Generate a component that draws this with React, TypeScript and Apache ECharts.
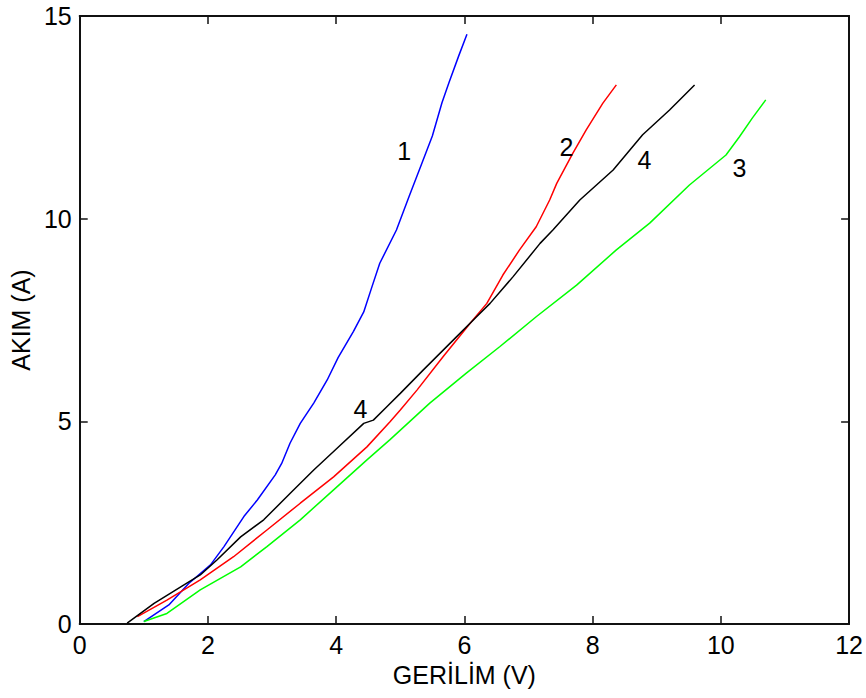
import React, { useEffect, useRef } from "react";
import * as echarts from "echarts";

// Curve 1 (blue)
const v1 = [1.0, 1.39, 1.7, 2.04, 2.25, 2.56, 2.77, 3.05, 3.15, 3.28, 3.44, 3.65, 3.86, 4.03, 4.27, 4.43, 4.55, 4.68, 4.94, 5.14, 5.34, 5.5, 5.65, 5.76, 5.91, 6.04];
const i1 = [0.06, 0.47, 1.0, 1.46, 1.91, 2.65, 3.06, 3.68, 3.96, 4.46, 4.95, 5.45, 6.02, 6.57, 7.22, 7.7, 8.28, 8.9, 9.72, 10.56, 11.38, 12.04, 12.86, 13.36, 14.01, 14.55];
// Curve 2 (red)
const v2 = [0.9, 1.36, 1.88, 2.4, 2.92, 3.44, 3.96, 4.48, 4.84, 5.0, 5.26, 5.67, 6.09, 6.35, 6.6, 6.86, 7.12, 7.33, 7.44, 7.69, 7.9, 8.16, 8.37];
const i2 = [0.18, 0.59, 1.09, 1.66, 2.32, 2.98, 3.63, 4.37, 4.99, 5.28, 5.77, 6.6, 7.42, 7.91, 8.61, 9.23, 9.8, 10.46, 10.87, 11.61, 12.19, 12.85, 13.3];
// Curve 3 (green)
const v3 = [1.0, 1.36, 1.88, 2.51, 2.92, 3.44, 3.96, 4.48, 4.84, 5.46, 6.03, 6.55, 7.12, 7.75, 8.37, 8.89, 9.51, 10.08, 10.29, 10.49, 10.7];
const i3 = [0.06, 0.26, 0.84, 1.41, 1.91, 2.57, 3.31, 4.05, 4.55, 5.45, 6.19, 6.84, 7.58, 8.36, 9.23, 9.89, 10.83, 11.57, 12.02, 12.48, 12.93];
// Curve 4 (black)
const v4 = [0.74, 1.16, 1.62, 1.88, 2.14, 2.51, 2.87, 3.28, 3.65, 4.01, 4.43, 4.58, 4.79, 5.0, 5.36, 5.88, 6.19, 6.4, 6.76, 7.18, 7.38, 7.8, 8.32, 8.78, 9.2, 9.59];
const i4 = [0.02, 0.51, 0.96, 1.21, 1.58, 2.15, 2.57, 3.22, 3.8, 4.33, 4.95, 5.03, 5.36, 5.69, 6.27, 7.09, 7.58, 7.91, 8.57, 9.39, 9.72, 10.46, 11.2, 12.07, 12.68, 13.3];

// Curve labels
const labelTexts = ["1", "2", "4", "3", "4"];
const labelV = [5.06, 7.59, 8.81, 10.29, 4.38];
const labelI = [11.67, 11.77, 11.44, 11.24, 5.31];

const xName = "GERİLİM (V)";
const yName = "AKIM (A)";

const FONT = "'Liberation Sans', Arial, sans-serif";
const AX = "#111";

const pairs = (xs: number[], ys: number[]) => xs.map((x, k) => [x, ys[k]]);

export default function App() {
  const ref = useRef<HTMLDivElement>(null);
  useEffect(() => {
    if (!ref.current) return;
    const chart = echarts.init(ref.current, undefined, { renderer: "svg" });
    const axisCommon = {
      axisLine: { show: true, onZero: false, lineStyle: { color: AX, width: 2 } },
      axisTick: { show: true, inside: true, length: 8, lineStyle: { color: AX, width: 1.5 } },
      splitLine: { show: false },
    };
    const lineSeries = (name: string, xs: number[], ys: number[], color: string) => ({
      name,
      type: "line",
      data: pairs(xs, ys),
      showSymbol: false,
      symbol: "none",
      lineStyle: { color, width: 1.5 },
      xAxisIndex: 0,
      yAxisIndex: 0,
      z: 3,
    });
    chart.setOption({
      animation: false,
      backgroundColor: "#fff",
      grid: { left: 79, right: 16, top: 16, bottom: 74, containLabel: false },
      xAxis: [
        {
          type: "value",
          position: "bottom",
          min: 0,
          max: 12,
          interval: 2,
          name: xName,
          nameLocation: "middle",
          nameGap: 38,
          nameTextStyle: { color: "#000", fontSize: 25, fontFamily: FONT },
          axisLabel: { color: "#000", fontSize: 25, fontFamily: FONT, margin: 8 },
          ...axisCommon,
        },
        {
          type: "value",
          position: "top",
          min: 0,
          max: 12,
          interval: 2,
          axisLabel: { show: false },
          ...axisCommon,
        },
      ],
      yAxis: [
        {
          type: "value",
          position: "left",
          min: 0,
          max: 15,
          interval: 5,
          name: yName,
          nameLocation: "middle",
          nameGap: 45,
          nameRotate: 90,
          nameTextStyle: { color: "#000", fontSize: 25, fontFamily: FONT },
          axisLabel: { color: "#000", fontSize: 25, fontFamily: FONT, margin: 8 },
          ...axisCommon,
        },
        {
          type: "value",
          position: "right",
          min: 0,
          max: 15,
          interval: 5,
          axisLabel: { show: false },
          ...axisCommon,
        },
      ],
      series: [
        lineSeries("1", v1, i1, "#0000ff"),
        lineSeries("2", v2, i2, "#ff0000"),
        lineSeries("3", v3, i3, "#00ff00"),
        lineSeries("4", v4, i4, "#000000"),
        {
          type: "scatter",
          name: "labels",
          data: labelV.map((x, k) => ({ value: [x, labelI[k]], name: labelTexts[k] })),
          symbolSize: 1,
          itemStyle: { color: "rgba(0,0,0,0)", opacity: 1 },
          label: {
            show: true,
            position: "inside",
            formatter: (p: any) => p.name,
            color: "#000",
            fontSize: 25,
            fontFamily: FONT,
            align: "center",
            verticalAlign: "middle",
            textBorderWidth: 0,
          },
          z: 5,
        },
      ],
    });
    return () => chart.dispose();
  }, []);
  return (
    <div
      ref={ref}
      style={{ position: "absolute", left: 0, top: 0, width: 866, height: 698 }}
    />
  );
}
